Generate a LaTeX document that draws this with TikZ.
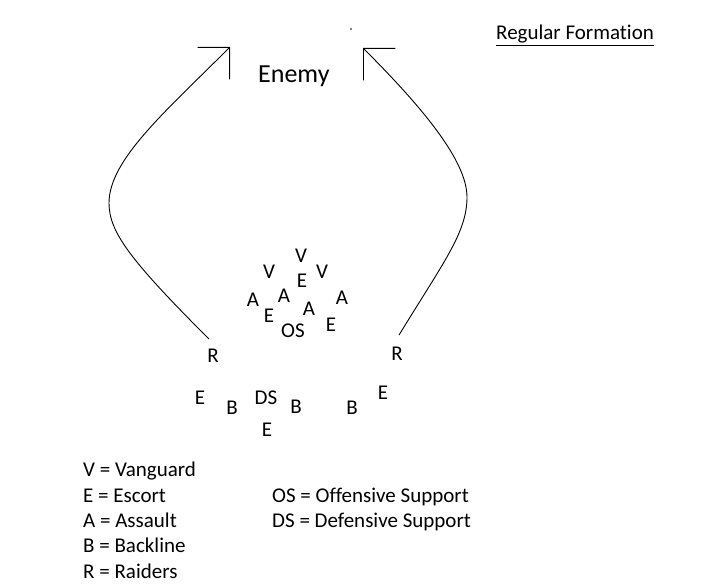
\documentclass[tikz,border=0pt]{standalone}
\usepackage{fontspec}
\setmainfont{Carlito}[Ligatures=NoCommon]
\usetikzlibrary{arrows.meta}
\begin{document}
\begin{tikzpicture}[x=1pt,y=-1pt,
    unit/.style={inner sep=2pt,font=\fontsize{21}{25}\selectfont},
    legend/.style={anchor=base west,inner sep=0pt,font=\fontsize{21}{25}\selectfont},
    raid/.style={line width=0.9pt,-{Straight Barb[angle=90:32pt]}}]
  \useasboundingbox (0,0) rectangle (705,585);

  % Title and target
  \node[legend] (title) at (496,40) {\underline{Regular Formation}};
  \node[anchor=base west,inner sep=0pt,font=\fontsize{26}{30}\selectfont] (enemy) at (258,83) {Enemy};
  \fill (351,29) circle (0.8pt);

  % Main body
  \node[unit] (v1) at (301,256) {V};
  \node[unit] (v2) at (269,272) {V};
  \node[unit] (v3) at (322,272) {V};
  \node[unit] (e1) at (302,281) {E};
  \node[unit] (a1) at (253,300) {A};
  \node[unit] (a2) at (284,296) {A};
  \node[unit] (a3) at (342,298) {A};
  \node[unit] (a4) at (309,309) {A};
  \node[unit] (e2) at (269,316) {E};
  \node[unit] (e3) at (331,325) {E};
  \node[unit] (os) at (293,331) {OS};

  % Raiders
  \node[unit] (rl) at (213,356) {R};
  \node[unit] (rr) at (397,354) {R};

  % Rear
  \node[unit] (e4) at (200,398) {E};
  \node[unit] (b1) at (232,408) {B};
  \node[unit] (ds) at (266,398) {DS};
  \node[unit] (b2) at (296,407) {B};
  \node[unit] (e5) at (267,430) {E};
  \node[unit] (b3) at (352,408) {B};
  \node[unit] (e6) at (383,393) {E};

  % Flanking routes
  \coordinate (lt) at (230,47);
  \coordinate (rt) at (363,48);
  \draw[raid] ([shift={(-4pt,8pt)}]rl.north) .. controls (130,260) and (109,232) .. (109,203)
    .. controls (109,160) and (165,112) .. (lt);
  \draw[raid] ([shift={(2pt,10pt)}]rr.north) .. controls (445,260) and (467,232) .. (467,197)
    .. controls (467,160) and (420,105) .. (rt);

  % Legend
  \node[legend] (lv) at (83,477) {V = Vanguard};
  \node[legend] (le) at (83,503) {E = Escort};
  \node[legend] (la) at (83,528) {A = Assault};
  \node[legend] (lb) at (83,553) {B = Backline};
  \node[legend] (lr) at (83,578) {R = Raiders};
  \node[legend] (los) at (272,503) {OS = Offensive Support};
  \node[legend] (lds) at (272,528) {DS = Defensive Support};
\end{tikzpicture}
\end{document}
